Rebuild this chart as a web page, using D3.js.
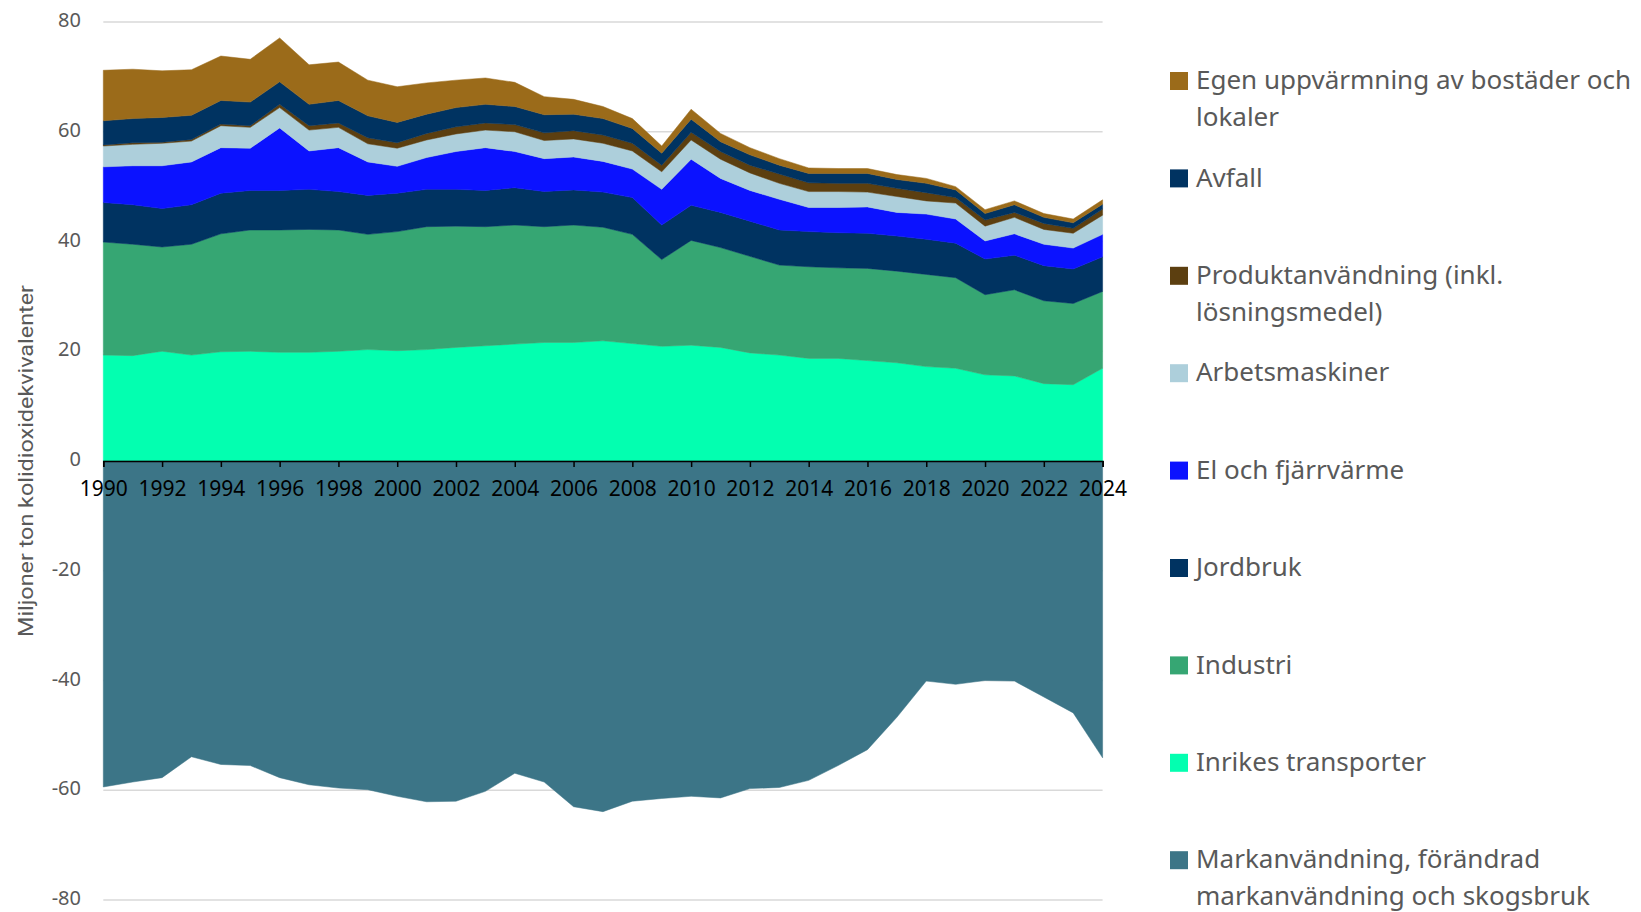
<!DOCTYPE html>
<html>
<head>
<meta charset="utf-8">
<script src="https://cdn.jsdelivr.net/npm/d3@7"></script>
<style>
  body { margin: 0; background: #fff; }
  svg text { font-family: 'Noto Sans', sans-serif; }
</style>
</head>
<body>
<script>
var years = d3.range(1990, 2025);

// Miljoner ton koldioxidekvivalenter, per sektor
var inrikesTransporter = [19.3, 19.2, 20.0, 19.3, 19.9, 20.0, 19.8, 19.8, 20.0, 20.3, 20.1, 20.3, 20.7, 21.0, 21.3, 21.6, 21.6, 21.9, 21.4, 20.9, 21.1, 20.7, 19.7, 19.3, 18.7, 18.7, 18.3, 17.9, 17.2, 16.9, 15.7, 15.5, 14.1, 13.9, 16.9];
var industri = [20.6, 20.3, 19.0, 20.2, 21.5, 22.1, 22.3, 22.4, 22.1, 21.0, 21.7, 22.4, 22.1, 21.7, 21.7, 21.1, 21.4, 20.7, 19.9, 15.8, 19.1, 18.2, 17.6, 16.4, 16.7, 16.5, 16.8, 16.7, 16.8, 16.5, 14.6, 15.7, 15.1, 14.8, 14.0];
var jordbruk = [7.2, 7.2, 7.0, 7.2, 7.4, 7.2, 7.2, 7.3, 7.0, 7.1, 7.0, 6.8, 6.7, 6.6, 6.8, 6.4, 6.4, 6.4, 6.7, 6.3, 6.4, 6.4, 6.4, 6.4, 6.4, 6.4, 6.4, 6.4, 6.4, 6.3, 6.5, 6.3, 6.4, 6.3, 6.3];
var elFjarrvarme = [6.5, 7.1, 7.8, 7.8, 8.3, 7.7, 11.4, 7.0, 8.0, 6.1, 4.9, 5.8, 6.9, 7.8, 6.6, 6.0, 6.0, 5.6, 5.2, 6.5, 8.4, 6.2, 5.6, 5.6, 4.4, 4.6, 4.8, 4.3, 4.6, 4.4, 3.3, 3.9, 3.9, 3.8, 4.1];
var arbetsmaskiner = [3.8, 3.9, 4.1, 3.8, 4.0, 3.8, 3.7, 3.8, 3.7, 3.3, 3.3, 3.2, 3.2, 3.2, 3.6, 3.3, 3.3, 3.3, 3.3, 3.2, 3.5, 3.5, 3.2, 2.9, 2.9, 2.9, 2.7, 2.9, 2.4, 2.9, 2.7, 3.0, 2.7, 2.7, 3.5];
var produktanvandning = [0.2, 0.3, 0.2, 0.3, 0.3, 0.3, 0.6, 0.8, 0.8, 1.1, 1.0, 1.2, 1.3, 1.3, 1.3, 1.4, 1.5, 1.5, 1.4, 1.2, 1.4, 1.4, 1.4, 1.7, 1.6, 1.5, 1.6, 1.5, 1.5, 1.0, 1.1, 0.9, 1.1, 0.9, 1.1];
var avfall = [4.4, 4.4, 4.5, 4.4, 4.3, 4.3, 4.1, 3.9, 4.1, 4.0, 3.7, 3.5, 3.5, 3.4, 3.3, 3.3, 3.0, 3.0, 2.7, 2.2, 2.4, 1.8, 1.9, 1.6, 1.7, 1.8, 1.8, 1.6, 1.7, 1.4, 1.2, 1.4, 1.1, 1.0, 0.9];
var egenUppvarmning = [9.2, 9.0, 8.5, 8.3, 8.1, 7.8, 8.0, 7.2, 7.0, 6.5, 6.5, 5.7, 5.0, 4.8, 4.4, 3.3, 2.7, 2.2, 1.8, 1.3, 1.8, 1.5, 1.3, 1.2, 1.0, 0.9, 0.9, 0.9, 0.9, 0.6, 0.7, 0.7, 0.7, 0.7, 0.8];
var markanvandning = [-59.4, -58.5, -57.7, -53.9, -55.3, -55.5, -57.7, -59.0, -59.6, -59.9, -61.1, -62.1, -62.0, -60.2, -56.9, -58.5, -63.0, -63.9, -62.0, -61.5, -61.1, -61.4, -59.7, -59.5, -58.2, -55.5, -52.6, -46.7, -40.1, -40.7, -40.0, -40.1, -43.0, -45.9, -54.1];

var yTicks = [-80, -60, -40, -20, 0, 20, 40, 60, 80];
var xTicks = d3.range(1990, 2025, 2);

// stacking order, bottom to top
var series = [
  { key: 'transport', values: inrikesTransporter, color: '#03ffb0', label: ['Inrikes transporter'] },
  { key: 'industri', values: industri, color: '#36a673', label: ['Industri'] },
  { key: 'jordbruk', values: jordbruk, color: '#003361', label: ['Jordbruk'] },
  { key: 'el', values: elFjarrvarme, color: '#0b12ff', label: ['El och fjärrvärme'] },
  { key: 'arbets', values: arbetsmaskiner, color: '#adcfdb', label: ['Arbetsmaskiner'] },
  { key: 'produkt', values: produktanvandning, color: '#5c3f10', label: ['Produktanvändning (inkl.', 'lösningsmedel)'] },
  { key: 'avfall', values: avfall, color: '#003361', label: ['Avfall'] },
  { key: 'egen', values: egenUppvarmning, color: '#9b6b1a', label: ['Egen uppvärmning av bostäder och', 'lokaler'] },
  { key: 'mark', values: markanvandning, color: '#3c7587', label: ['Markanvändning, förändrad', 'markanvändning och skogsbruk'] }
];

// legend order, top to bottom
var legendOrder = ['egen', 'avfall', 'produkt', 'arbets', 'el', 'jordbruk', 'industri', 'transport', 'mark'];

var table = years.map(function(yr, i) {
  var row = { year: yr };
  series.forEach(function(s) { row[s.key] = s.values[i]; });
  return row;
});

var W = 1641, H = 912;
var plotLeft = 103.3, plotRight = 1102.6, plotTop = 22, plotBottom = 900;

var svg = d3.select('body').append('svg')
  .attr('width', W)
  .attr('height', H);

var x = d3.scaleLinear().domain([1990, 2024]).range([plotLeft, plotRight]);
var y = d3.scaleLinear().domain([-80, 80]).range([plotBottom, plotTop]);

// gridlines
svg.append('g').selectAll('line')
    .data(yTicks.filter(function(t) { return t !== 0; }))
  .enter().append('line')
    .attr('x1', plotLeft)
    .attr('x2', plotRight)
    .attr('y1', function(d) { return y(d); })
    .attr('y2', function(d) { return y(d); })
    .attr('stroke', '#d9d9d9')
    .attr('stroke-width', 1.5);

var stack = d3.stack()
  .keys(series.map(function(s) { return s.key; }))
  .offset(d3.stackOffsetDiverging);
var layers = stack(table);

var area = d3.area()
  .x(function(d) { return x(d.data.year); })
  .y0(function(d) { return y(d[0]); })
  .y1(function(d) { return y(d[1]); });

svg.append('g').selectAll('path')
    .data(layers)
  .enter().append('path')
    .attr('d', area)
    .attr('fill', function(d, i) { return series[i].color; })
    .attr('stroke', function(d, i) { return series[i].color; })
    .attr('stroke-width', 0.5);

// x axis at zero
var xAxis = svg.append('g')
  .attr('transform', 'translate(0,' + y(0) + ')')
  .call(d3.axisBottom(x).tickValues(xTicks).tickFormat(d3.format('d')).tickSize(6).tickSizeOuter(6).tickPadding(14));
xAxis.select('.domain').attr('stroke', '#000').attr('stroke-width', 1.5);
xAxis.selectAll('.tick line').attr('stroke', '#000').attr('stroke-width', 1.5);
xAxis.selectAll('.tick text')
  .attr('fill', '#000')
  .style('font-size', '21px');

// y labels
svg.append('g').selectAll('text')
    .data(yTicks)
  .enter().append('text')
    .attr('x', 81)
    .attr('y', function(d) { return y(d) - 2; })
    .attr('dy', '0.35em')
    .attr('text-anchor', 'end')
    .attr('fill', '#595959')
    .style('font-size', '20px')
    .text(function(d) { return d; });

svg.append('text')
  .attr('transform', 'translate(26,' + ((plotTop + plotBottom) / 2) + ') rotate(-90)')
  .attr('text-anchor', 'middle')
  .attr('dy', '0.35em')
  .attr('fill', '#595959')
  .attr('textLength', 352)
  .attr('lengthAdjust', 'spacingAndGlyphs')
  .style('font-family', 'Roboto')
  .style('font-size', '21px')
  .text('Miljoner ton kolidioxidekvivalenter');

// legend
var legend = svg.append('g').selectAll('g')
    .data(legendOrder.map(function(k) { return series.filter(function(s) { return s.key === k; })[0]; }))
  .enter().append('g')
    .attr('transform', function(d, i) { return 'translate(1170,' + (80 + i * 97.4) + ')'; });

legend.append('rect')
  .attr('x', 0)
  .attr('y', -8)
  .attr('width', 18)
  .attr('height', 18)
  .attr('fill', function(d) { return d.color; });

legend.append('text')
  .attr('fill', '#595959')
  .style('font-size', '26px')
  .selectAll('tspan')
    .data(function(d) { return d.label; })
  .enter().append('tspan')
    .attr('x', 26)
    .attr('y', function(d, i) { return i * 37; })
    .attr('dy', '0.35em')
    .text(function(d) { return d; });
</script>
</body>
</html>
